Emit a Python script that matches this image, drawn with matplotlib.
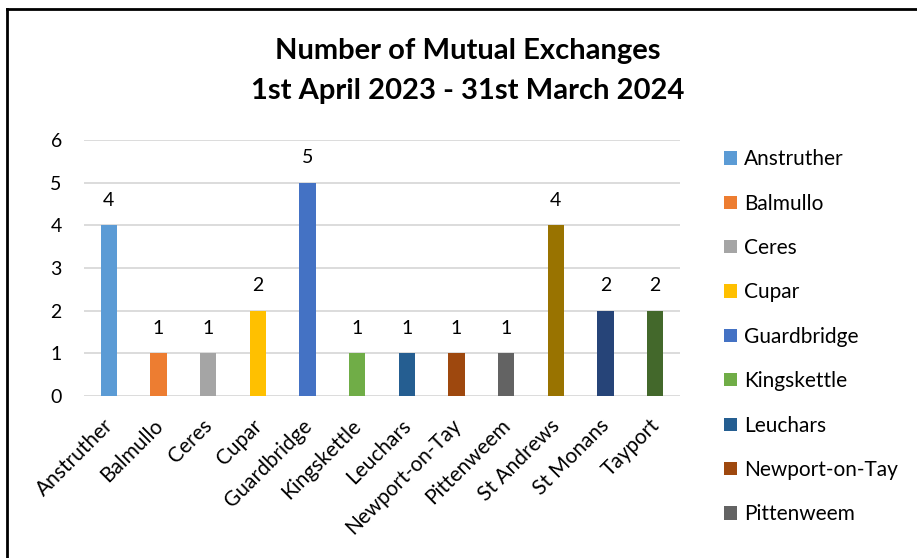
import matplotlib
matplotlib.use("Agg")
import matplotlib.pyplot as plt
import matplotlib.transforms as mtrans
from matplotlib.lines import Line2D
from matplotlib.patches import Patch

plt.rcParams['font.family'] = ['Lato', 'DejaVu Sans']

towns = ["Anstruther", "Balmullo", "Ceres", "Cupar", "Guardbridge", "Kingskettle",
         "Leuchars", "Newport-on-Tay", "Pittenweem", "St Andrews", "St Monans", "Tayport"]
exchanges = [4, 1, 1, 2, 5, 1, 1, 1, 1, 4, 2, 2]
colours = ["#5B9BD5", "#ED7D31", "#A5A5A5", "#FFC000", "#4472C4", "#70AD47",
           "#255E91", "#9E480E", "#636363", "#997300", "#264478", "#43682B"]
legend_visible = 9  # the rest of the legend runs off the bottom of the picture

fig = plt.figure(figsize=(9.17, 5.58), dpi=100)
ax = fig.add_axes([84 / 917, 1 - 396 / 558, 596 / 917, 256 / 558])

x = range(len(towns))
bars = ax.bar(x, exchanges, width=0.33, color=colours, zorder=3)
for b, v in zip(bars, exchanges):
    ax.annotate(str(v), (b.get_x() + b.get_width() / 2, v), xytext=(0, 12),
                textcoords="offset points", ha="center", va="bottom", fontsize=14)

ax.set_xlim(-0.5, len(towns) - 0.5)
ax.set_ylim(0, 6)
ax.set_yticks(range(7))
ax.yaxis.grid(True, color="#D9D9D9", linewidth=1.3, zorder=0)
ax.set_axisbelow(True)
for s in ax.spines.values():
    s.set_visible(False)
ax.tick_params(axis="both", length=0, labelsize=14)
ax.tick_params(axis="y", pad=16)
ax.tick_params(axis="x", pad=14)
ax.set_xticks(list(x))
ax.set_xticklabels(towns, rotation=45, ha="right", va="top", rotation_mode="anchor",
                   fontsize=15)
shift = mtrans.ScaledTranslation(-6 / 100, 0, fig.dpi_scale_trans)
for lbl in ax.get_xticklabels():
    lbl.set_transform(lbl.get_transform() + shift)

fig.text(0.51, 1 - 51 / 558, "Number of Mutual Exchanges", ha="center", va="center",
         fontsize=21, fontweight="bold")
fig.text(0.51, 1 - 91 / 558, "1st April 2023 - 31st March 2024", ha="center", va="center",
         fontsize=21, fontweight="bold")

handles = [Patch(facecolor=c) for c in colours[:legend_visible]]
fig.legend(handles, towns[:legend_visible], loc="upper left",
           bbox_to_anchor=(716 / 917, 1 - 141 / 558),
           frameon=False, fontsize=15, handlelength=0.6, handleheight=0.6,
           handletextpad=0.35, labelspacing=1.17, borderaxespad=0)

# chart frame (runs off the right and bottom edges)
fig.add_artist(Line2D([7 / 917, 7 / 917], [1 - 9 / 558, 0], transform=fig.transFigure,
                      color="black", linewidth=2))
fig.add_artist(Line2D([7 / 917, 1], [1 - 9 / 558, 1 - 9 / 558], transform=fig.transFigure,
                      color="black", linewidth=2))

fig.savefig("out.png", dpi=100)
